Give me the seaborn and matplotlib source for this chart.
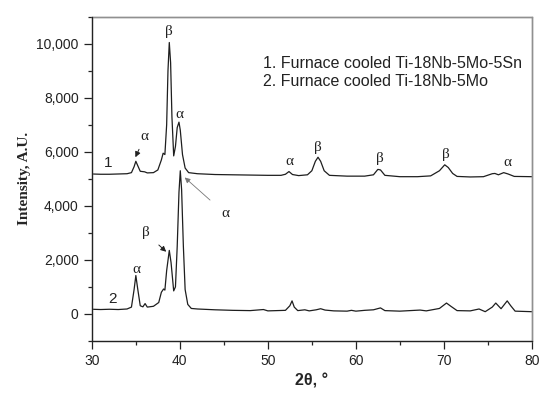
import numpy as np
import pandas as pd
import seaborn as sns
import matplotlib.pyplot as plt
from matplotlib.patches import Rectangle
from matplotlib.ticker import MultipleLocator, FuncFormatter

# curve 1: furnace cooled Ti-18Nb-5Mo-5Sn
x1 = [30.0, 31.0, 32.0, 33.0, 34.0, 34.5, 34.8, 35.0, 35.2, 35.5, 36.0, 36.3, 37.0, 37.5,
      37.9, 38.1, 38.3, 38.5, 38.65, 38.8, 38.95, 39.1, 39.3, 39.5, 39.7, 39.9, 40.05, 40.3,
      40.6, 41.0, 42.0, 44.0, 46.0, 48.0, 50.0, 51.5, 52.0, 52.4, 52.8, 53.5, 54.5, 55.0,
      55.4, 55.7, 56.0, 56.4, 57.0, 59.0, 61.0, 62.0, 62.5, 62.8, 63.3, 65.0, 67.0, 68.5,
      69.5, 70.1, 70.5, 71.0, 71.5, 73.0, 74.5, 75.5, 75.8, 76.2, 76.8, 77.3, 78.0, 80.0]
y1 = [5180, 5170, 5170, 5180, 5190, 5230, 5450, 5650, 5500, 5280, 5260, 5220, 5230, 5330,
      5700, 5950, 5900, 7000, 9000, 10050, 9300, 7300, 5850, 6200, 6900, 7100, 6800, 5900,
      5400, 5230, 5190, 5160, 5150, 5140, 5130, 5130, 5170, 5270, 5160, 5120, 5150, 5300,
      5650, 5800, 5650, 5300, 5130, 5100, 5100, 5150, 5350, 5330, 5130, 5080, 5080, 5110,
      5300, 5520, 5420, 5200, 5090, 5070, 5080, 5190, 5200, 5150, 5230, 5180, 5090, 5080]

# curve 2: furnace cooled Ti-18Nb-5Mo
x2 = [30.0, 31.0, 32.0, 33.0, 34.0, 34.5, 34.8, 35.0, 35.2, 35.5, 35.8, 36.05, 36.3, 37.0,
      37.6, 37.9, 38.15, 38.3, 38.5, 38.8, 39.0, 39.3, 39.5, 39.7, 39.9, 40.05, 40.2, 40.4,
      40.6, 40.9, 41.3, 42.0, 44.0, 46.0, 48.0, 49.5, 50.0, 52.0, 52.5, 52.75, 53.0, 53.4,
      54.2, 54.7, 55.5, 56.0, 56.5, 57.5, 59.0, 59.5, 60.0, 61.0, 62.0, 62.8, 63.3, 65.0,
      67.3, 68.0, 69.5, 70.3, 70.8, 71.5, 73.0, 74.0, 74.7, 75.5, 75.9, 76.5, 77.2, 77.6,
      78.1, 80.0]
y2 = [170, 160, 170, 160, 180, 250, 900, 1420, 950, 300, 260, 380, 250, 280,
      420, 800, 920, 880, 1600, 2350, 1900, 850, 1000, 2500, 4500, 5300, 4600, 2500,
      900, 350, 200, 180, 150, 130, 120, 160, 110, 130, 300, 480, 250, 120,
      150, 110, 150, 190, 140, 110, 100, 130, 100, 130, 150, 220, 120, 100,
      140, 110, 200, 400, 280, 120, 110, 180, 80, 250, 400, 190, 480, 300,
      100, 80]

legend_lines = ["1. Furnace cooled Ti-18Nb-5Mo-5Sn", "2. Furnace cooled Ti-18Nb-5Mo"]

df = pd.concat([
    pd.DataFrame({"two_theta": x1, "intensity": y1, "curve": "1"}),
    pd.DataFrame({"two_theta": x2, "intensity": y2, "curve": "2"}),
])

sns.set_style("ticks", {"axes.spines.top": True, "axes.spines.right": True})
plt.rcParams["font.family"] = ["Liberation Sans", "DejaVu Sans"]

fig = plt.figure(figsize=(5.5, 4.01), dpi=100)
ax = fig.add_axes([0.167, 0.150, 0.800, 0.808])

sns.lineplot(data=df, x="two_theta", y="intensity", units="curve", estimator=None,
             sort=False, color="#1e1e1e", linewidth=0.9, ax=ax)

ax.set_xlim(30, 80)
ax.set_ylim(-1000, 11000)
ax.xaxis.set_major_locator(MultipleLocator(10))
ax.xaxis.set_minor_locator(MultipleLocator(5))
ax.yaxis.set_major_locator(MultipleLocator(2000))
ax.yaxis.set_minor_locator(MultipleLocator(1000))
ax.yaxis.set_major_formatter(FuncFormatter(lambda v, p: f"{int(v):,}"))
ax.tick_params(which="major", direction="out", length=6, width=0.9, labelsize=10, colors="#222",
               top=False, right=False)
ax.tick_params(which="minor", direction="out", length=3, width=0.9, colors="#222",
               top=False, right=False)

for s in ["left", "bottom"]:
    ax.spines[s].set_color("#222")
    ax.spines[s].set_linewidth(0.9)
for s in ["top", "right"]:
    ax.spines[s].set_visible(True)
    ax.spines[s].set_color("#909090")
    ax.spines[s].set_linewidth(1.0)

# light grey frame around the plot area (top and right edges)
ax.add_patch(Rectangle((0, 0), 1, 1, transform=ax.transAxes, fill=False,
                       edgecolor="#909090", linewidth=1.0, clip_on=False, zorder=4))

ax.set_ylabel("Intensity, A.U.", family="Liberation Serif", fontweight="bold", fontsize=11)
ax.set_xlabel("2θ, °", fontweight="bold", fontsize=11.5)

serif = dict(family="Liberation Serif", fontsize=11, ha="center", va="center", color="#222")
# phase labels, curve 1
ax.annotate("α", xy=(34.95, 5800), xytext=(36.0, 6550), **serif,
            arrowprops=dict(arrowstyle="-|>", color="#222", lw=0.7, mutation_scale=8,
                            shrinkA=2, shrinkB=0))
ax.text(38.75, 10450, "β", **serif)
ax.text(39.9, 7400, "α", **serif)
ax.text(52.4, 5650, "α", **serif)
ax.text(55.7, 6150, "β", **serif)
ax.text(62.7, 5750, "β", **serif)
ax.text(70.2, 5900, "β", **serif)
ax.text(77.2, 5600, "α", **serif)
# phase labels, curve 2
ax.text(35.1, 1650, "α", **serif)
ax.annotate("β", xy=(38.45, 2300), xytext=(36.1, 3000), **serif,
            arrowprops=dict(arrowstyle="-|>", color="#222", lw=0.7, mutation_scale=8,
                            shrinkA=6, shrinkB=0))
ax.annotate("α", xy=(40.55, 5050), xytext=(45.2, 3700), **serif,
            arrowprops=dict(arrowstyle="-|>", color="#777", lw=0.6, mutation_scale=8,
                            shrinkA=8, shrinkB=0))

ax.text(31.8, 5600, "1", fontsize=11, ha="center", va="center", color="#222")
ax.text(32.35, 560, "2", fontsize=11, ha="center", va="center", color="#222")

ax.text(49.4, 9280, legend_lines[0], fontsize=11.5, ha="left", va="center", color="#222")
ax.text(49.4, 8620, legend_lines[1], fontsize=11.5, ha="left", va="center", color="#222")

# redraw the dark left/bottom spines over the frame
for s in ["left", "bottom"]:
    ax.spines[s].set_zorder(6)

fig.savefig("out.png", dpi=100)
